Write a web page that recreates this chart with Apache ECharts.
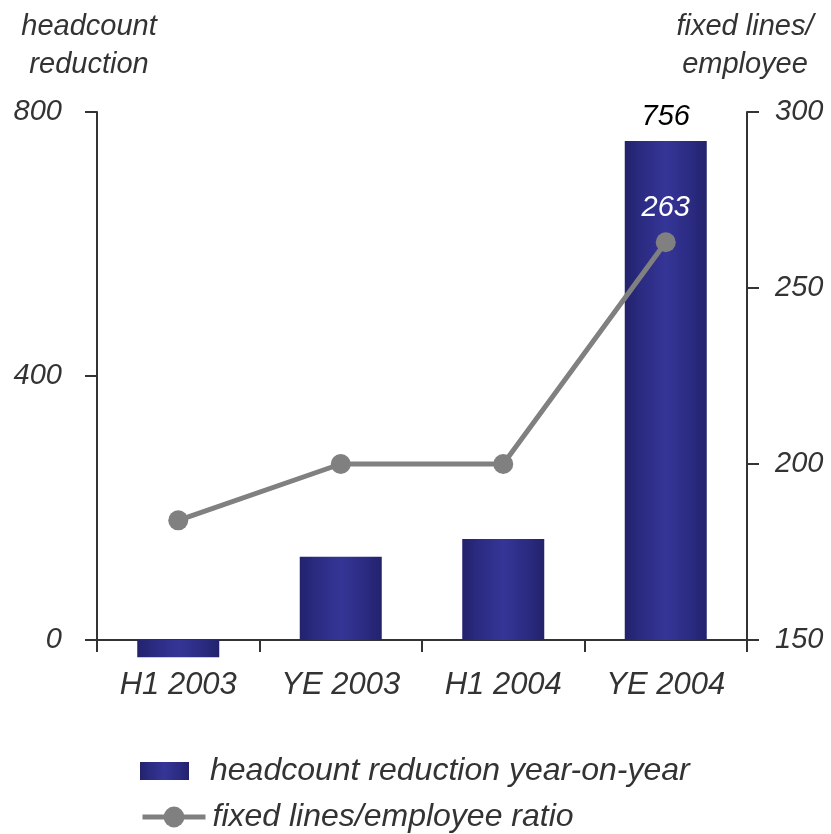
<!DOCTYPE html>
<html>
<head>
<meta charset="utf-8">
<script src="https://cdn.jsdelivr.net/npm/echarts@6/dist/echarts.min.js"></script>
<style>
  html, body { margin: 0; padding: 0; background: #fff; }
  #chart { width: 831px; height: 834px; }
</style>
</head>
<body>
<div id="chart"></div>
<script>
// Periods on the horizontal axis
const periods = ['H1 2003', 'YE 2003', 'H1 2004', 'YE 2004'];
// Headcount reduction year-on-year (left axis)
const headcountReduction = [-26, 126, 153, 756];
// Fixed lines per employee (right axis)
const linesPerEmployee = [184, 200, 200, 263];
// Values printed above the final period
const labelledIndex = 3;

const BAR_NAME = 'headcount reduction year-on-year';
const LINE_NAME = 'fixed lines/employee ratio';

const FONT = "'Liberation Sans', Arial, sans-serif";
const TEXT = '#333333';
const AXIS = '#333333';

const barFill = {
  type: 'linear', x: 0, y: 0, x2: 1, y2: 0,
  colorStops: [
    { offset: 0, color: '#22226c' },
    { offset: 0.2, color: '#2b2b82' },
    { offset: 0.5, color: '#353597' },
    { offset: 0.8, color: '#2b2b82' },
    { offset: 1, color: '#22226c' }
  ]
};

const chart = echarts.init(document.getElementById('chart'), null, { renderer: 'canvas' });

const baseText = { fontFamily: FONT, fontStyle: 'italic', fontSize: 29, color: TEXT };
const axisLabelText = Object.assign({}, baseText, { fontSize: 31 });
const legendText = Object.assign({}, baseText, { fontSize: 32, lineHeight: 36 });

chart.setOption({
  animation: false,
  backgroundColor: '#ffffff',
  grid: { left: 97, right: 84, top: 112, bottom: 194, containLabel: false },
  graphic: [
    {
      type: 'text', x: 89, y: 8,
      style: {
        text: 'headcount\nreduction', textAlign: 'center',
        font: 'italic 29px ' + FONT, fill: TEXT, lineHeight: 38
      }
    },
    {
      type: 'text', x: 745, y: 8,
      style: {
        text: 'fixed lines/\nemployee', textAlign: 'center',
        font: 'italic 29px ' + FONT, fill: TEXT, lineHeight: 38
      }
    }
  ],
  legend: [
    {
      left: 140, top: 753, padding: 0,
      itemWidth: 49, itemHeight: 18,
      textStyle: Object.assign({}, legendText, { padding: [0, 0, 0, 16] }),
      data: [{ name: BAR_NAME, icon: 'rect' }]
    },
    {
      left: 140, top: 799, padding: 0,
      itemWidth: 63, itemHeight: 26,
      lineStyle: { width: 5, color: '#808080' },
      textStyle: Object.assign({}, legendText, { padding: [0, 0, 0, 2] }),
      data: [{ name: LINE_NAME }]
    }
  ],
  xAxis: {
    type: 'category',
    data: periods,
    boundaryGap: true,
    axisLine: { lineStyle: { color: AXIS, width: 2 } },
    axisTick: { show: true, length: 12, alignWithLabel: false, lineStyle: { color: AXIS, width: 2 } },
    axisLabel: Object.assign({}, axisLabelText, { margin: 30 }),
    splitLine: { show: false }
  },
  yAxis: [
    {
      type: 'value', min: 0, max: 800, interval: 400,
      axisLine: { show: true, lineStyle: { color: AXIS, width: 2 } },
      axisTick: { show: true, length: 12, lineStyle: { color: AXIS, width: 2 } },
      axisLabel: Object.assign({}, baseText, { margin: 35 }),
      splitLine: { show: false }
    },
    {
      type: 'value', min: 150, max: 300, interval: 50,
      position: 'right',
      axisLine: { show: true, lineStyle: { color: AXIS, width: 2 } },
      axisTick: { show: true, length: 12, lineStyle: { color: AXIS, width: 2 } },
      axisLabel: Object.assign({}, baseText, { margin: 28 }),
      splitLine: { show: false }
    }
  ],
  series: [
    {
      name: BAR_NAME,
      type: 'bar',
      yAxisIndex: 0,
      barWidth: 82,
      clip: false,
      itemStyle: { color: barFill },
      data: headcountReduction.map((v, i) => ({
        value: v,
        label: {
          show: i === labelledIndex, position: 'top', distance: 10,
          fontFamily: FONT, fontStyle: 'italic', fontSize: 29, color: '#000000'
        }
      })),
      z: 2
    },
    {
      name: LINE_NAME,
      type: 'line',
      yAxisIndex: 1,
      symbol: 'circle',
      symbolSize: 20,
      lineStyle: { color: '#808080', width: 5 },
      itemStyle: { color: '#808080' },
      data: linesPerEmployee.map((v, i) => ({
        value: v,
        label: {
          show: i === labelledIndex, position: 'top', distance: 10,
          fontFamily: FONT, fontStyle: 'italic', fontSize: 29, color: '#ffffff'
        }
      })),
      z: 3
    }
  ]
});
</script>
</body>
</html>
